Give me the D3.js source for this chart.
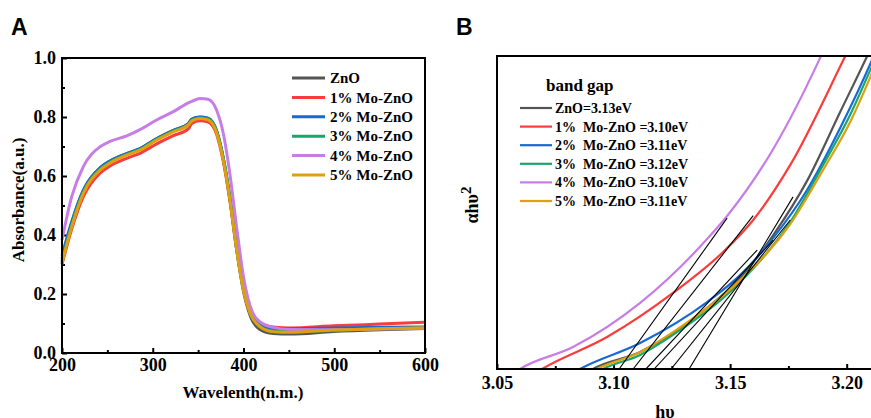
<!DOCTYPE html>
<html>
<head>
<meta charset="utf-8">
<style>
  body { margin: 0; background: #fff; }
  svg text { font-family: "Liberation Serif", "Times New Roman", serif; font-weight: bold; fill: #000; }
  .axis .domain { display: none; }
  .axis line { stroke: #000; stroke-width: 2; }
  .panel { font-family: "Liberation Sans", Arial, sans-serif !important; }
</style>
</head>
<body>
<svg width="871" height="418"></svg>
<script src="https://d3js.org/d3.v7.min.js"></script>
<script>

// ---- data ----
var names = ["ZnO", "1% Mo-ZnO", "2% Mo-ZnO", "3% Mo-ZnO", "4% Mo-ZnO", "5% Mo-ZnO"];
var colors = ["#555555", "#fa3c3c", "#1769d6", "#16a86b", "#c77de6", "#dea00e"];

// panel A : absorbance vs wavelength
var wavelength = [200, 210.7, 223.5, 241.9, 252.9, 271.3, 286, 304.3, 322.7, 339.2, 343, 352, 361, 370.5, 377.7, 385, 392.5, 399.8, 407.2, 418.2, 432.8, 451.2, 499, 550, 600];
var absZnO = [0.318, 0.440, 0.550, 0.627, 0.651, 0.676, 0.693, 0.727, 0.755, 0.778, 0.792, 0.799, 0.795, 0.750, 0.658, 0.522, 0.350, 0.212, 0.128, 0.080, 0.066, 0.064, 0.073, 0.079, 0.083];
var absMo1 = [0.300, 0.420, 0.530, 0.610, 0.634, 0.660, 0.677, 0.709, 0.737, 0.760, 0.778, 0.787, 0.783, 0.740, 0.650, 0.516, 0.350, 0.220, 0.142, 0.100, 0.088, 0.085, 0.092, 0.098, 0.104];
var absMo2 = [0.330, 0.445, 0.552, 0.628, 0.651, 0.676, 0.693, 0.726, 0.754, 0.777, 0.793, 0.800, 0.796, 0.752, 0.662, 0.528, 0.358, 0.222, 0.140, 0.097, 0.083, 0.082, 0.085, 0.087, 0.088];
var absMo3 = [0.310, 0.432, 0.545, 0.623, 0.647, 0.673, 0.690, 0.724, 0.752, 0.775, 0.789, 0.797, 0.793, 0.750, 0.660, 0.526, 0.356, 0.218, 0.137, 0.090, 0.075, 0.073, 0.078, 0.082, 0.084];
var absMo4 = [0.383, 0.530, 0.632, 0.699, 0.717, 0.736, 0.757, 0.790, 0.818, 0.848, 0.853, 0.863, 0.860, 0.822, 0.745, 0.607, 0.425, 0.262, 0.160, 0.105, 0.087, 0.080, 0.079, 0.081, 0.084];
var absMo5 = [0.305, 0.428, 0.541, 0.620, 0.644, 0.671, 0.688, 0.722, 0.750, 0.773, 0.787, 0.795, 0.790, 0.745, 0.654, 0.519, 0.349, 0.214, 0.135, 0.089, 0.072, 0.070, 0.078, 0.082, 0.086];
var absSeries = [absZnO, absMo1, absMo2, absMo3, absMo4, absMo5];

// panel B : (alpha h v)^2 vs h v, arbitrary units
var hvZnO = [3.0870, 3.0912, 3.1114, 3.1401, 3.1543, 3.1685, 3.1830, 3.1972, 3.2088, 3.2150];
var tzZnO = [-0.02, 0, 0.054, 0.195, 0.291, 0.428, 0.601, 0.821, 1.0, 1.1];
var hvMo1 = [3.0650, 3.0693, 3.0972, 3.1255, 3.1470, 3.1599, 3.1758, 3.1994, 3.2060];
var tzMo1 = [-0.02, 0, 0.102, 0.243, 0.374, 0.476, 0.652, 1.0, 1.1];
var hvMo2 = [3.0810, 3.0856, 3.1114, 3.1401, 3.1543, 3.1685, 3.1830, 3.1972, 3.2105, 3.2150];
var tzMo2 = [-0.02, 0, 0.083, 0.214, 0.300, 0.419, 0.572, 0.770, 0.981, 1.06];
var hvMo3 = [3.0910, 3.0955, 3.1114, 3.1255, 3.1543, 3.1758, 3.1899, 3.2015, 3.2105, 3.2150];
var tzMo3 = [-0.02, 0, 0.045, 0.109, 0.278, 0.470, 0.652, 0.812, 0.962, 1.04];
var hvMo4 = [3.0560, 3.0599, 3.0826, 3.1114, 3.1401, 3.1487, 3.1685, 3.1886, 3.1950];
var tzMo4 = [-0.02, 0, 0.070, 0.211, 0.415, 0.489, 0.703, 0.994, 1.1];
var hvMo5 = [3.0880, 3.0929, 3.1114, 3.1255, 3.1543, 3.1758, 3.1899, 3.2015, 3.2105, 3.2150];
var tzMo5 = [-0.02, 0, 0.054, 0.118, 0.284, 0.463, 0.636, 0.789, 0.939, 1.02];
var hvSeries = [hvZnO, hvMo1, hvMo2, hvMo3, hvMo4, hvMo5];
var tzSeries = [tzZnO, tzMo1, tzMo2, tzMo3, tzMo4, tzMo5];

// tangent lines: x-intercept and end point
var tanStart = [3.1324, 3.1084, 3.1139, 3.1247, 3.1024, 3.1174];
var tanEndX = [3.1770, 3.1599, 3.1616, 3.1758, 3.1487, 3.1685];
var tanEndY = [0.550, 0.490, 0.380, 0.476, 0.482, 0.412];

var gapLabels = ["ZnO=3.13eV", "1%  Mo-ZnO =3.10eV", "2%  Mo-ZnO =3.11eV", "3%  Mo-ZnO =3.12eV", "4%  Mo-ZnO =3.10eV", "5%  Mo-ZnO =3.11eV"];

var svg = d3.select("svg");

// ================= panel A =================
var xA = d3.scaleLinear().domain([200, 600]).range([62, 425]);
var yA = d3.scaleLinear().domain([0, 1]).range([353, 58]);

var gA = svg.append("g");

gA.append("g")
  .attr("class", "axis")
  .attr("transform", "translate(0,353)")
  .call(d3.axisBottom(xA).tickValues([250, 350, 450, 550]).tickSize(-3).tickFormat(""));
gA.append("g")
  .attr("class", "axis")
  .attr("transform", "translate(0,353)")
  .call(d3.axisBottom(xA).tickValues([200, 300, 400, 500, 600]).tickSize(-5).tickPadding(5).tickFormat(d3.format("d")))
  .selectAll("text").attr("font-size", 18).attr("fill", "#000");

gA.append("g")
  .attr("class", "axis")
  .attr("transform", "translate(62,0)")
  .call(d3.axisLeft(yA).tickValues([0.1, 0.3, 0.5, 0.7, 0.9]).tickSize(-3).tickFormat(""));
gA.append("g")
  .attr("class", "axis")
  .attr("transform", "translate(62,0)")
  .call(d3.axisLeft(yA).tickValues([0, 0.2, 0.4, 0.6, 0.8, 1.0]).tickSize(-5).tickPadding(6).tickFormat(d3.format(".1f")))
  .selectAll("text").attr("font-size", 18).attr("fill", "#000");

var lineA = d3.line()
  .x(function(d, i) { return xA(wavelength[i]); })
  .y(function(d) { return yA(d); })
  .curve(d3.curveMonotoneX);

gA.append("g").selectAll("path")
  .data(absSeries)
  .enter().append("path")
  .attr("d", lineA)
  .attr("fill", "none")
  .attr("stroke", function(d, i) { return colors[i]; })
  .attr("stroke-width", 3);

gA.append("rect")
  .attr("x", 62).attr("y", 58)
  .attr("width", 425 - 62).attr("height", 353 - 58)
  .attr("fill", "none").attr("stroke", "#000").attr("stroke-width", 2);

var legA = gA.append("g").selectAll("g")
  .data(names)
  .enter().append("g")
  .attr("transform", function(d, i) { return "translate(0," + (78 + i * 19.4) + ")"; });
legA.append("line")
  .attr("x1", 292).attr("x2", 325)
  .attr("stroke", function(d, i) { return colors[i]; })
  .attr("stroke-width", 3);
legA.append("text")
  .attr("x", 330).attr("dy", "0.35em")
  .attr("font-size", 15)
  .text(function(d) { return d; });

gA.append("text")
  .attr("x", 243).attr("y", 398)
  .attr("text-anchor", "middle")
  .attr("font-size", 17)
  .text("Wavelenth(n.m.)");

gA.append("text")
  .attr("transform", "translate(24,200) rotate(-90)")
  .attr("text-anchor", "middle")
  .attr("font-size", 17)
  .text("Absorbance(a.u.)");

gA.append("text")
  .attr("class", "panel")
  .attr("x", 11).attr("y", 35)
  .attr("font-size", 23)
  .text("A");

// ================= panel B =================
var xB = d3.scaleLinear().domain([3.05, 3.21]).range([497, 870]);
var yB = d3.scaleLinear().domain([0, 1]).range([369, 56]);

var gB = svg.append("g");

gB.append("clipPath").attr("id", "clipB")
  .append("rect")
  .attr("x", 497).attr("y", 56)
  .attr("width", 380).attr("height", 369 - 56);

gB.append("g")
  .attr("class", "axis")
  .attr("transform", "translate(0,369)")
  .call(d3.axisBottom(xB).tickValues([3.075, 3.125, 3.175]).tickSize(-3).tickFormat(""));
gB.append("g")
  .attr("class", "axis")
  .attr("transform", "translate(0,369)")
  .call(d3.axisBottom(xB).tickValues([3.05, 3.10, 3.15, 3.20]).tickSize(-5).tickPadding(7).tickFormat(d3.format(".2f")))
  .selectAll("text").attr("font-size", 18).attr("fill", "#000");

var plotB = gB.append("g").attr("clip-path", "url(#clipB)");

plotB.selectAll("path.curve")
  .data(tzSeries)
  .enter().append("path")
  .attr("class", "curve")
  .attr("d", function(d, s) {
    return d3.line()
      .x(function(v, i) { return xB(hvSeries[s][i]); })
      .y(function(v) { return yB(v); })
      .curve(d3.curveMonotoneX)(d);
  })
  .attr("fill", "none")
  .attr("stroke", function(d, i) { return colors[i]; })
  .attr("stroke-width", 2.2);

plotB.selectAll("line.tan")
  .data(tanStart)
  .enter().append("line")
  .attr("class", "tan")
  .attr("x1", function(d) { return xB(d); })
  .attr("y1", yB(0))
  .attr("x2", function(d, i) { return xB(tanEndX[i]); })
  .attr("y2", function(d, i) { return yB(tanEndY[i]); })
  .attr("stroke", "#000")
  .attr("stroke-width", 1.1);

gB.append("rect")
  .attr("x", 497).attr("y", 56)
  .attr("width", 380).attr("height", 369 - 56)
  .attr("fill", "none").attr("stroke", "#000").attr("stroke-width", 2);

gB.append("text")
  .attr("x", 546).attr("y", 91)
  .attr("font-size", 17)
  .text("band gap");

var legB = gB.append("g").selectAll("g")
  .data(gapLabels)
  .enter().append("g")
  .attr("transform", function(d, i) { return "translate(0," + (108 + i * 18.6) + ")"; });
legB.append("line")
  .attr("x1", 520).attr("x2", 552)
  .attr("stroke", function(d, i) { return colors[i]; })
  .attr("stroke-width", 2.2);
legB.append("text")
  .attr("x", 555).attr("dy", "0.35em")
  .attr("font-size", 14)
  .style("white-space", "pre")
  .text(function(d) { return d; });

gB.append("text")
  .attr("x", 665).attr("y", 418)
  .attr("text-anchor", "middle")
  .attr("font-size", 18)
  .text("hυ");

var yLab = gB.append("text")
  .attr("transform", "translate(478,205) rotate(-90)")
  .attr("text-anchor", "middle")
  .attr("font-size", 18);
yLab.append("tspan").text("αhυ");
yLab.append("tspan").attr("dy", "-0.45em").attr("font-size", 15).text("2");

gB.append("text")
  .attr("class", "panel")
  .attr("x", 456).attr("y", 35)
  .attr("font-size", 23)
  .text("B");

</script>
</body>
</html>
